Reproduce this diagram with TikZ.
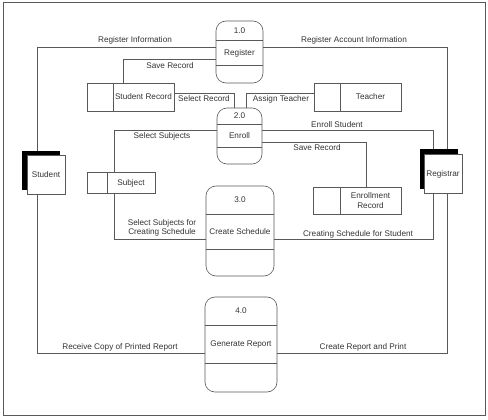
\documentclass[tikz,border=0pt]{standalone}
\usepackage{fontspec}
\setmainfont{Liberation Sans}
\begin{document}
\begin{tikzpicture}[x=1pt,y=-1pt,
  line/.style={draw=black!65, line width=0.6pt},
  proc/.style={line, rounded corners=10pt, inner sep=0pt},
  store/.style={line, inner sep=0pt},
  ext/.style={line, fill=white, inner sep=0pt, minimum width=38pt, minimum height=39pt},
  shade/.style={fill=black, inner sep=0pt, minimum width=38pt, minimum height=39pt},
  lbl/.style={font=\fontsize{8.2}{9.5}\selectfont, text=black!80, inner sep=0pt, align=center},
]
\useasboundingbox (0,0) rectangle (488,420);
\draw[line] (3,2) rectangle (485,415);

% processes
\node[proc, minimum width=47pt, minimum height=62pt] (p1) at (239.5,52) {};
\node[proc, minimum width=45pt, minimum height=56pt] (p2) at (239.5,136) {};
\node[proc, minimum width=68pt, minimum height=90pt] (p3) at (240,231) {};
\node[proc, minimum width=72pt, minimum height=95pt] (p4) at (241,344.5) {};
\draw[line] (p1.west |- 0,40) -- (p1.east |- 0,40);
\draw[line] (p1.west |- 0,65) -- (p1.east |- 0,65);
\draw[line] (p2.west |- 0,124) -- (p2.east |- 0,124);
\draw[line] (p2.west |- 0,147) -- (p2.east |- 0,147);
\draw[line] (p3.west |- 0,214) -- (p3.east |- 0,214);
\draw[line] (p3.west |- 0,249) -- (p3.east |- 0,249);
\draw[line] (p4.west |- 0,325) -- (p4.east |- 0,325);
\draw[line] (p4.west |- 0,363) -- (p4.east |- 0,363);
\node[lbl] (p1n) at (239.5,31) {1.0};
\node[lbl] (p1t) at (239.5,53) {Register};
\node[lbl] (p2n) at (239.5,116) {2.0};
\node[lbl] (p2t) at (239.5,136) {Enroll};
\node[lbl] (p3n) at (240,200) {3.0};
\node[lbl] (p3t) at (240,232) {Create Schedule};
\node[lbl] (p4n) at (241,311) {4.0};
\node[lbl] (p4t) at (241,344) {Generate Report};

% data stores
\node[store, minimum width=87pt, minimum height=28pt] (sr) at (130.5,97) {};
\draw[line] (sr.north -| 113,0) -- (sr.south -| 113,0);
\node[lbl] (srt) at (143.5,97) {Student Record};
\node[store, minimum width=87pt, minimum height=28pt] (te) at (357.5,97) {};
\draw[line] (te.north -| 340,0) -- (te.south -| 340,0);
\node[lbl] (tet) at (370.5,97) {Teacher};
\node[store, minimum width=68pt, minimum height=21pt] (su) at (121,182.5) {};
\draw[line] (su.north -| 107,0) -- (su.south -| 107,0);
\node[lbl] (sut) at (131,183) {Subject};
\node[store, minimum width=88pt, minimum height=27pt] (er) at (357,200.5) {};
\draw[line] (er.north -| 340,0) -- (er.south -| 340,0);
\node[lbl] (ert) at (370.5,200.5) {Enrollment\\Record};

% connectors
\draw[line] (p1.west |- 0,47) -- (37,47) -- (37,353) -- (p4.west |- 0,353);
\draw[line] (p1.east |- 0,47) -- (447,47) -- (447,353) -- (p4.east |- 0,353);
\draw[line] (p1.west |- 0,59) -| (sr.north -| 123,0);
\draw[line] (sr.east |- 0,93) -| (p2.north -| 234,0);
\draw[line] (te.west |- 0,93) -| (p2.north -| 246,0);
\draw[line] (p2.west |- 0,130) -| (su.north -| 114,0);
\draw[line] (su.south -| 114,0) |- (p3.west |- 0,239);
\draw[line] (p2.east |- 0,130) -| (433,154);
\draw[line] (p2.east |- 0,142) -| (er.north -| 366,0);
\draw[line] (p3.east |- 0,239) -| (433,194);

% external entities
\node[shade] (stsh) at (41,170.5) {};
\node[ext] (st) at (46,174.5) {};
\node[lbl] (stt) at (46,175) {Student};
\node[shade] (rgsh) at (438.5,169) {};
\node[ext] (rg) at (443,174) {};
\node[lbl] (rgt) at (443,174) {Registrar};

% labels
\node[lbl] (l1) at (135,40) {Register Information};
\node[lbl] (l2) at (354,40) {Register Account Information};
\node[lbl] (l3) at (170,66) {Save Record};
\node[lbl] (l4) at (204,99) {Select Record};
\node[lbl] (l5) at (281,99) {Assign Teacher};
\node[lbl] (l6) at (162,136) {Select Subjects};
\node[lbl] (l7) at (337,125) {Enroll Student};
\node[lbl] (l8) at (317,148) {Save Record};
\node[lbl] (l9) at (162,228) {Select Subjects for\\Creating Schedule};
\node[lbl] (l10) at (358,234) {Creating Schedule for Student};
\node[lbl] (l11) at (120,347) {Receive Copy of Printed Report};
\node[lbl] (l12) at (363,347) {Create Report and Print};
\end{tikzpicture}
\end{document}
